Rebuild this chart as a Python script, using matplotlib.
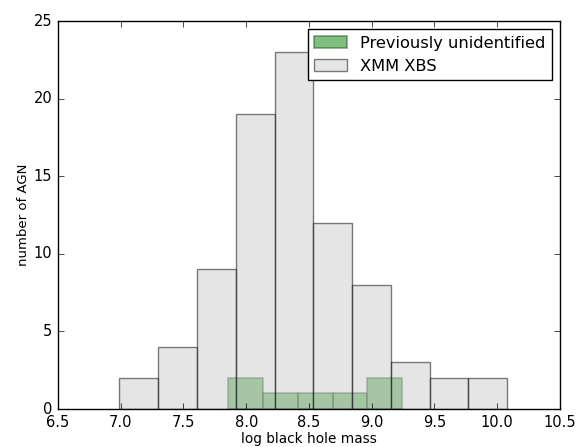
import numpy as np
import matplotlib
matplotlib.use('Agg')
import matplotlib.pyplot as plt

# XMM XBS sample: bin edges and counts
xbs_edges = np.linspace(6.99, 10.08, 11)
xbs_counts = [2, 4, 9, 19, 23, 12, 8, 3, 2, 2]

# previously unidentified AGN
new_edges = np.linspace(7.857, 9.243, 6)
new_counts = [2, 1, 1, 1, 2]

plt.style.use('classic')
plt.rcParams['font.family'] = 'DejaVu Sans'

fig = plt.figure(figsize=(5.81, 4.47), dpi=100)
ax = fig.add_axes([0.0998, 0.085, 0.864, 0.868])

xbs_mid = (xbs_edges[:-1] + xbs_edges[1:]) / 2
new_mid = (new_edges[:-1] + new_edges[1:]) / 2

ax.hist(new_mid, bins=new_edges, weights=new_counts, color='g', alpha=0.5,
        edgecolor='#1a4d1a', linewidth=1.2, label='Previously unidentified')
ax.hist(xbs_mid, bins=xbs_edges, weights=xbs_counts, color='#cccccc', alpha=0.5,
        edgecolor='black', label='XMM XBS')

ax.set_xlim(6.5, 10.5)
ax.set_ylim(0, 25)
ax.set_xticks(np.arange(6.5, 10.51, 0.5))
ax.set_yticks(np.arange(0, 26, 5))
ax.tick_params(labelsize=10.5)
ax.set_xlabel('log black hole mass', fontsize=9.8, labelpad=2)
ax.set_ylabel('number of AGN', fontsize=9.5, labelpad=3)
ax.legend(loc='upper right', fontsize=11.7)

fig.savefig('out.png', dpi=100)
